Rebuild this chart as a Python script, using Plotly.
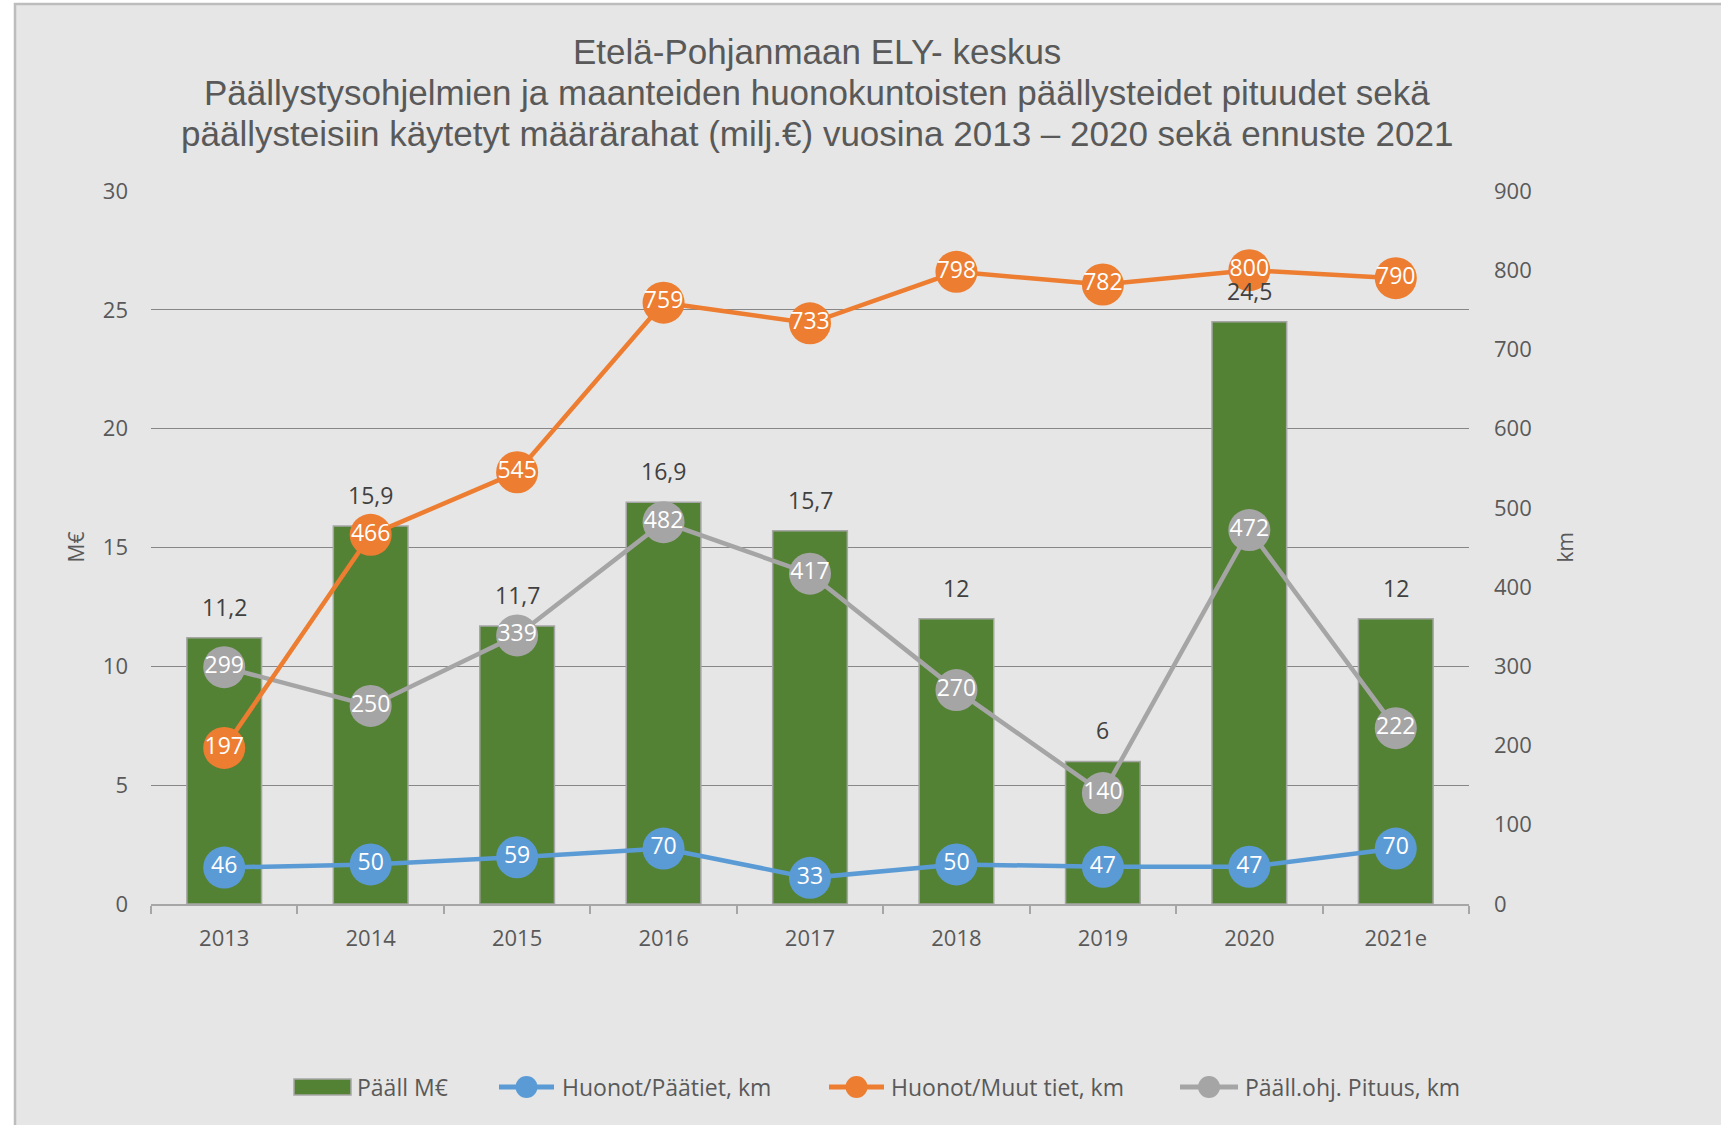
import plotly.graph_objects as go

# Years on the category axis
years = ["2013", "2014", "2015", "2016", "2017", "2018", "2019", "2020", "2021e"]

# Paving funds, million euros (left axis)
paall_meur = [11.2, 15.9, 11.7, 16.9, 15.7, 12, 6, 24.5, 12]

# Lengths in km (right axis)
huonot_paatiet = [46, 50, 59, 70, 33, 50, 47, 47, 70]
huonot_muut = [197, 466, 545, 759, 733, 798, 782, 800, 790]
paall_pituus = [299, 250, 339, 482, 417, 270, 140, 472, 222]

left_ticks = [0, 5, 10, 15, 20, 25, 30]
right_ticks = [0, 100, 200, 300, 400, 500, 600, 700, 800, 900]

title_lines = [
    "Etelä-Pohjanmaan ELY- keskus",
    "Päällystysohjelmien ja maanteiden huonokuntoisten päällysteidet pituudet sekä",
    "päällysteisiin käytetyt määrärahat (milj.€) vuosina 2013 – 2020 sekä ennuste 2021",
]

W, H = 1721, 1125
ML, MR, MT, MB = 151, 252, 191, 221
PW, PH = W - ML - MR, H - MT - MB


def px_x(px):
    return (px - ML) / PW


def px_y(py):
    return (H - MB - py) / PH


GREEN = "#548235"
BLUE = "#5B9BD5"
ORANGE = "#ED7D31"
GREY = "#A5A5A5"
TEXT = "#595959"
FONT = "Open Sans"

fig = go.Figure()

fig.add_trace(go.Bar(
    x=years, y=paall_meur, name="Pääll M€",
    marker=dict(color=GREEN, line=dict(color="#A6A6A6", width=1.5)),
    yaxis="y",
))


def line_trace(values, name, color):
    return go.Scatter(
        x=years, y=values, name=name, yaxis="y2",
        mode="lines+markers+text",
        line=dict(color=color, width=4.5),
        marker=dict(color=color, size=42, line=dict(width=0)),
        text=[str(v) for v in values], textposition="middle center",
        textfont=dict(family=FONT, size=23, color="white"),
    )


fig.add_trace(line_trace(paall_pituus, "Pääll.ohj. Pituus, km", GREY))
fig.add_trace(line_trace(huonot_paatiet, "Huonot/Päätiet, km", BLUE))
fig.add_trace(line_trace(huonot_muut, "Huonot/Muut tiet, km", ORANGE))

annotations = []
# value labels above the bars (x given as category index)
for i, v in enumerate(paall_meur):
    annotations.append(dict(
        x=i, y=v, xref="x", yref="y", text=f"{v:g}".replace(".", ","),
        showarrow=False, yanchor="middle", yshift=31,
        font=dict(family=FONT, size=23, color="#404040"),
    ))

# three-line chart title
for txt, py in zip(title_lines, [52, 93, 134]):
    annotations.append(dict(
        x=px_x(817), y=px_y(py), xref="paper", yref="paper", text=txt,
        showarrow=False, xanchor="center", yanchor="middle",
        font=dict(family="Liberation Sans", size=35, color=TEXT),
    ))

# axis titles
annotations.append(dict(x=px_x(75), y=0.5, xref="paper", yref="paper", text="M€",
                        showarrow=False, textangle=-90, xanchor="center",
                        font=dict(family=FONT, size=21, color=TEXT)))
annotations.append(dict(x=px_x(1564), y=0.5, xref="paper", yref="paper", text="km",
                        showarrow=False, textangle=-90, xanchor="center",
                        font=dict(family=FONT, size=21, color=TEXT)))

# chart area background with frame
shapes = [dict(
    type="rect", xref="paper", yref="paper", layer="below",
    x0=px_x(15), x1=px_x(W + 20), y0=px_y(H + 20), y1=px_y(4),
    fillcolor="#E6E6E6", line=dict(color="#BDBDBD", width=2.5),
)]

# legend row along the bottom
LEG_Y = 1087
legend_items = [
    # (kind, colour, symbol start px, symbol end px, text start px, label)
    ("bar", GREEN, 294, 351, 355, "Pääll M€"),
    ("line", BLUE, 499, 554, 560, "Huonot/Päätiet, km"),
    ("line", ORANGE, 829, 884, 889, "Huonot/Muut tiet, km"),
    ("line", GREY, 1180, 1238, 1243, "Pääll.ohj. Pituus, km"),
]
for kind, col, s0, s1, t0, label in legend_items:
    if kind == "bar":
        shapes.append(dict(
            type="rect", xref="paper", yref="paper",
            x0=px_x(s0), x1=px_x(s1), y0=px_y(LEG_Y + 8), y1=px_y(LEG_Y - 8),
            fillcolor=GREEN, line=dict(color="#A6A6A6", width=1.5),
        ))
    else:
        shapes.append(dict(
            type="line", xref="paper", yref="paper",
            x0=px_x(s0), x1=px_x(s1), y0=px_y(LEG_Y), y1=px_y(LEG_Y),
            line=dict(color=col, width=5),
        ))
        cx = (s0 + s1) / 2
        r = 11
        shapes.append(dict(
            type="circle", xref="paper", yref="paper",
            x0=px_x(cx - r), x1=px_x(cx + r), y0=px_y(LEG_Y + r), y1=px_y(LEG_Y - r),
            fillcolor=col, line=dict(width=0),
        ))
    annotations.append(dict(
        x=px_x(t0), y=px_y(LEG_Y), xref="paper", yref="paper", text=label,
        showarrow=False, xanchor="left", yanchor="middle",
        font=dict(family=FONT, size=23, color=TEXT),
    ))

fig.update_layout(
    width=W, height=H,
    margin=dict(l=ML, r=MR, t=MT, b=MB, pad=0),
    paper_bgcolor="white", plot_bgcolor="rgba(0,0,0,0)",
    bargap=0.49,
    showlegend=False,
    annotations=annotations, shapes=shapes,
    xaxis=dict(
        type="category", range=[-0.5, len(years) - 0.5], autorange=False,
        showgrid=False, showline=True, linecolor="#A6A6A6",
        linewidth=1.5, ticks="outside", tickson="boundaries", ticklen=8,
        tickcolor="#A6A6A6", tickwidth=1.5,
        tickfont=dict(family=FONT, size=22, color=TEXT),
        ticklabelstandoff=14,
    ),
    yaxis=dict(
        range=[0, 30], tickvals=left_ticks, showgrid=True, gridcolor="#878787",
        gridwidth=1.4, zeroline=False, showline=False,
        tickfont=dict(family=FONT, size=22, color=TEXT),
        ticklabelstandoff=22,
    ),
    yaxis2=dict(
        range=[0, 900], tickvals=right_ticks, overlaying="y", side="right",
        showgrid=False, zeroline=False, showline=False,
        tickfont=dict(family=FONT, size=22, color=TEXT),
        ticklabelstandoff=24,
    ),
)

fig.write_html("out.html")
